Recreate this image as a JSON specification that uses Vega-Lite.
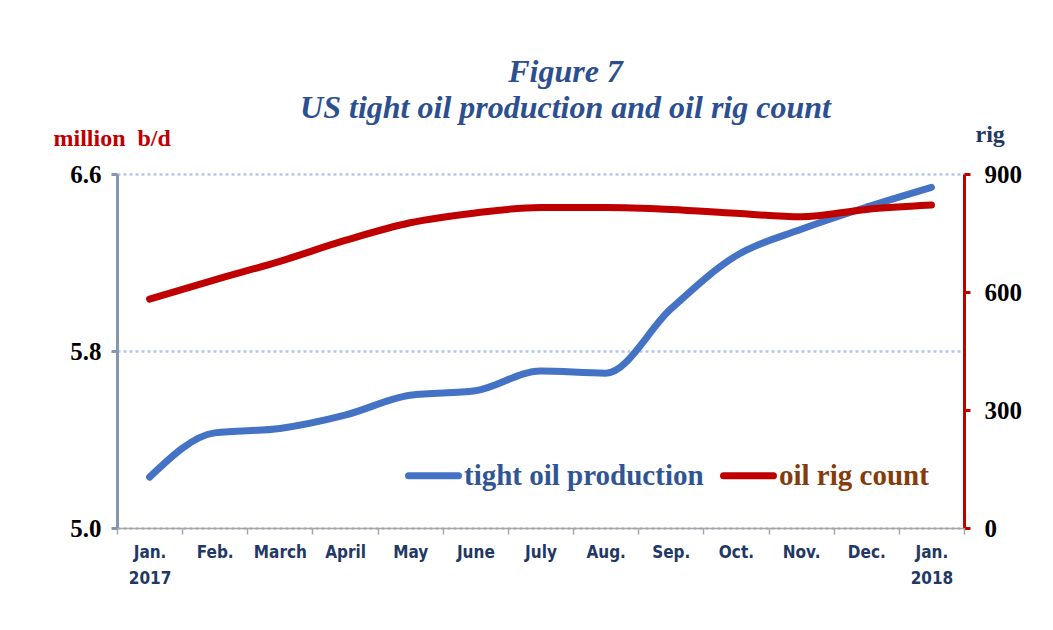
{
  "$schema": "https://vega.github.io/schema/vega-lite/v6.json",
  "width": 847,
  "height": 354,
  "autosize": {"type": "none"},
  "padding": {"left": 117, "top": 174, "right": 89, "bottom": 102},
  "background": "white",
  "config": {
    "view": {"stroke": null},
    "axis": {"labelFont": "Liberation Serif", "labelFontWeight": "bold", "titleFont": "Liberation Serif", "titleFontWeight": "bold"}
  },
  "title": {
    "text": ["Figure 7", "US tight oil production and oil rig count"],
    "font": "Liberation Serif",
    "fontStyle": "italic",
    "fontWeight": "bold",
    "fontSize": 32,
    "lineHeight": 36,
    "color": "#2C4F8F",
    "anchor": "middle",
    "dx": 25,
    "dy": 7,
    "offset": 4
  },
  "data": {
    "values": [
      {"month": "Jan. 2017", "production": 5.23, "rigs": 582},
      {"month": "Feb.", "production": 5.43, "rigs": 631},
      {"month": "March", "production": 5.45, "rigs": 678},
      {"month": "April", "production": 5.51, "rigs": 731},
      {"month": "May", "production": 5.6, "rigs": 776},
      {"month": "June", "production": 5.62, "rigs": 801},
      {"month": "July", "production": 5.71, "rigs": 815},
      {"month": "Aug.", "production": 5.7, "rigs": 815},
      {"month": "Sep.", "production": 5.99, "rigs": 810},
      {"month": "Oct.", "production": 6.23, "rigs": 800},
      {"month": "Nov.", "production": 6.35, "rigs": 791},
      {"month": "Dec.", "production": 6.45, "rigs": 810},
      {"month": "Jan. 2018", "production": 6.54, "rigs": 821}
    ]
  },
  "encoding": {
    "x": {
      "field": "month",
      "type": "ordinal",
      "sort": null,
      "bandPosition": 0.5,
      "scale": {"type": "band", "paddingInner": 0, "paddingOuter": 0},
      "axis": {
        "title": null,
        "labelAngle": 0,
        "labelExpr": "split(datum.label, ' ')",
        "labelFont": "'Liberation Sans Narrow', 'DejaVu Sans Condensed', 'Liberation Sans', sans-serif",
        "labelFontWeight": "bold",
        "labelFontSize": 17,
        "labelColor": "#1F3864",
        "labelLineHeight": 26,
        "labelPadding": 10,
        "labelBaseline": "top",
        "tickBand": "extent",
        "tickSize": 6,
        "tickColor": "#A6A6A6",
        "tickWidth": 1.5,
        "domainColor": "#A6A6A6",
        "domainWidth": 1.5,
        "grid": false,
        "zindex": 1
      }
    }
  },
  "layer": [
    {
      "mark": {"type": "line", "interpolate": "monotone", "strokeWidth": 7, "strokeCap": "round"},
      "encoding": {
        "y": {
          "field": "production",
          "type": "quantitative",
          "scale": {"domain": [5.0, 6.6], "nice": false, "zero": false},
          "axis": {
            "title": "million\u00a0 b/d",
            "titleAngle": 0,
            "titleAlign": "left",
            "titleBaseline": "bottom",
            "titleX": -64,
            "titleY": -24,
            "titleFontSize": 24,
            "titleColor": "#C00000",
            "values": [5.0, 5.8, 6.6],
            "format": ".1f",
            "labelFontSize": 25,
            "labelColor": "#000000",
            "labelPadding": 10,
            "tickSize": 6,
            "tickColor": "#8497B0",
            "tickWidth": 3,
            "domainColor": "#8497B0",
            "domainWidth": 3,
            "grid": true,
            "gridColor": "#B4C7E7",
            "gridDash": [3, 3],
            "gridWidth": 2.5
          }
        },
        "color": {
          "datum": "tight oil production",
          "type": "nominal",
          "scale": {"domain": ["tight oil production", "oil rig count"], "range": ["#4472C4", "#C00000"]},
          "legend": {
            "title": null,
            "orient": "none",
            "direction": "horizontal",
            "legendX": 288,
            "legendY": 273,
            "symbolType": "stroke",
            "symbolSize": 2500,
            "symbolStrokeWidth": 7,
            "labelFont": "Liberation Serif",
            "labelFontWeight": "bold",
            "labelFontSize": 29,
            "labelOffset": 2,
            "columnPadding": 5,
            "labelLimit": 400,
            "symbolOffset": 0,
            "padding": 0,
            "rowPadding": 0,
            "columns": 2,
            "labelColor": "#2F5597",
            "encode": {
              "labels": {"update": {"fill": {"signal": "datum.value === 'oil rig count' ? '#843C0C' : '#2F5597'"}}},
              "symbols": {"update": {"strokeCap": {"value": "round"}}}
            }
          }
        }
      }
    },
    {
      "mark": {"type": "line", "interpolate": "monotone", "strokeWidth": 7, "strokeCap": "round"},
      "encoding": {
        "y": {
          "field": "rigs",
          "type": "quantitative",
          "scale": {"domain": [0, 900], "nice": false},
          "axis": {
            "orient": "right",
            "title": "rig",
            "titleAngle": 0,
            "titleAlign": "left",
            "titleBaseline": "bottom",
            "titleX": 11,
            "titleY": -28,
            "titleFontSize": 24,
            "titleColor": "#1F3864",
            "values": [0, 300, 600, 900],
            "labelFontSize": 25,
            "labelColor": "#000000",
            "labelPadding": 14,
            "tickSize": 6,
            "tickColor": "#C00000",
            "tickWidth": 3,
            "domainColor": "#C00000",
            "domainWidth": 3,
            "grid": false
          }
        },
        "color": {"datum": "oil rig count", "type": "nominal"}
      }
    }
  ],
  "resolve": {"scale": {"y": "independent"}}
}
